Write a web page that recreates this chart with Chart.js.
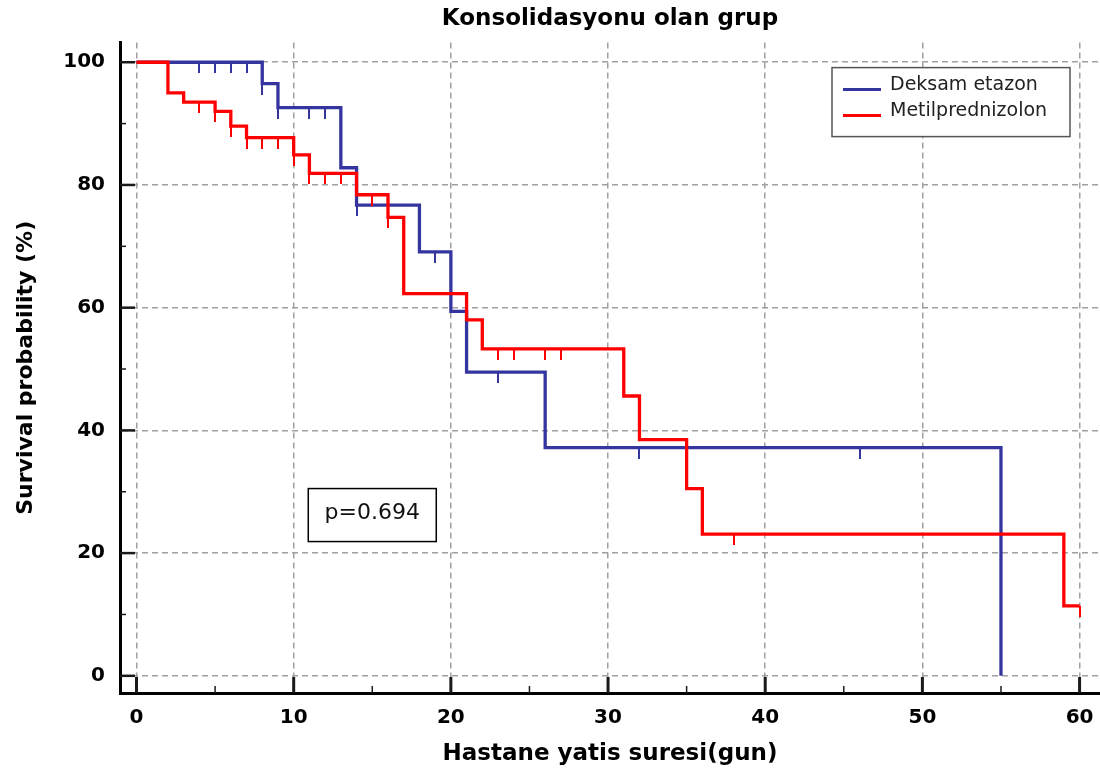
<!DOCTYPE html>
<html>
<head>
<meta charset="utf-8">
<script src="https://cdn.jsdelivr.net/npm/chart.js@4.4.1/dist/chart.umd.min.js"></script>
<style>
  html, body { margin: 0; padding: 0; background: #fff; }
</style>
</head>
<body>
<canvas id="KmChart" width="1100" height="780"></canvas>
<script>
// Kaplan-Meier curves: drop times and survival (%)
var blueTimes = [0, 8, 9, 13, 14, 18, 20, 21, 26, 55];
var blueSurv = [100, 96.5, 92.6, 82.8, 76.7, 69.1, 59.4, 49.5, 37.2, 0];
var blueCensored = [4, 5, 6, 7, 8, 9, 11, 12, 14, 19, 23, 32, 46];

var redTimes = [0, 2, 3, 5, 6, 7, 10, 11, 14, 16, 17, 21, 22, 31, 32, 35, 36, 59, 60];
var redSurv = [100, 95.0, 93.5, 92.0, 89.6, 87.7, 84.9, 81.9, 78.4, 74.7, 62.3, 58.0, 53.3, 45.6, 38.5, 30.5, 23.1, 11.4, 11.4];
var redCensored = [4, 5, 6, 7, 8, 9, 10, 11, 12, 13, 15, 16, 23, 24, 26, 27, 38, 60];

var legendNames = ['Deksam etazon', 'Metilprednizolon'];
var xTickValues = [0, 10, 20, 30, 40, 50, 60];
var xMinorValues = [5, 15, 25, 35, 45, 55];
var yTickValues = [0, 20, 40, 60, 80, 100];
var yMinorValues = [10, 30, 50, 70, 90];
var pValueText = 'p=0.694';

var blueColor = '#3535a0';
var redColor = '#ff0000';

Chart.defaults.font.family = "'DejaVu Sans', sans-serif";
Chart.defaults.color = '#000';

// survival level of a curve at time t (last step at or before t)
function survAt(times, surv, t) {
    var v = surv[0];
    for (var i = 0; i < times.length; i++) {
        if (times[i] <= t) v = surv[i];
    }
    return v;
}

function toPoints(xs, ys) {
    return xs.map(function (x, i) { return { x: x, y: ys[i] }; });
}

function censorPoints(cens, times, surv) {
    return cens.map(function (t) { return { x: t, y: survAt(times, surv, t) }; });
}

// small downward tick used as point style for censored cases
function censorMark(color) {
    var c = document.createElement('canvas');
    c.width = 2;
    c.height = 22;
    var g = c.getContext('2d');
    g.fillStyle = color;
    g.fillRect(0, 11, 2, 11);
    return c;
}

var axisTicks = {
    id: 'axisTicks',
    afterDraw: function (chart) {
        var ctx = chart.ctx, xs = chart.scales.x, ys = chart.scales.y, a = chart.chartArea;
        function seg(x1, y1, x2, y2, w) {
            ctx.lineWidth = w;
            ctx.beginPath();
            ctx.moveTo(x1, y1);
            ctx.lineTo(x2, y2);
            ctx.stroke();
        }
        ctx.save();
        ctx.strokeStyle = '#1a1a1a';
        xTickValues.forEach(function (v) {
            var px = xs.getPixelForValue(v);
            seg(px, a.bottom, px, a.bottom - 16, 3);
        });
        xMinorValues.forEach(function (v) {
            var px = xs.getPixelForValue(v);
            seg(px, a.bottom, px, a.bottom - 7, 1.5);
        });
        yTickValues.forEach(function (v) {
            var py = ys.getPixelForValue(v);
            seg(a.left, py, a.left + 15, py, 2.5);
        });
        yMinorValues.forEach(function (v) {
            var py = ys.getPixelForValue(v);
            seg(a.left, py, a.left + 6, py, 1.5);
        });
        ctx.restore();
    }
};

var boxLegend = {
    id: 'boxLegend',
    afterDraw: function (chart) {
        var ctx = chart.ctx, a = chart.chartArea;
        var w = 238, h = 69;
        var x0 = a.right - 268, y0 = a.top + 25;
        var colors = [blueColor, redColor];
        ctx.save();
        ctx.fillStyle = '#fff';
        ctx.fillRect(x0, y0, w, h);
        ctx.strokeStyle = '#555';
        ctx.lineWidth = 1.5;
        ctx.strokeRect(x0, y0, w, h);
        ctx.font = "19px 'DejaVu Sans'";
        ctx.textBaseline = 'middle';
        legendNames.forEach(function (name, i) {
            var y = y0 + 22 + i * 26;
            ctx.strokeStyle = colors[i];
            ctx.lineWidth = 3;
            ctx.beginPath();
            ctx.moveTo(x0 + 11, y);
            ctx.lineTo(x0 + 49, y);
            ctx.stroke();
            ctx.fillStyle = '#222';
            ctx.fillText(name, x0 + 58, y - 5);
        });
        ctx.restore();
    }
};

var pBox = {
    id: 'pBox',
    afterDraw: function (chart, args, opts) {
        var ctx = chart.ctx;
        var cx = chart.scales.x.getPixelForValue(opts.x);
        var cy = chart.scales.y.getPixelForValue(opts.y);
        ctx.save();
        ctx.fillStyle = '#fff';
        ctx.fillRect(cx - opts.w / 2, cy - opts.h / 2, opts.w, opts.h);
        ctx.strokeStyle = '#000';
        ctx.lineWidth = 1.5;
        ctx.strokeRect(cx - opts.w / 2, cy - opts.h / 2, opts.w, opts.h);
        ctx.fillStyle = '#111';
        ctx.font = "22px 'DejaVu Sans'";
        ctx.textAlign = 'center';
        ctx.textBaseline = 'middle';
        ctx.fillText(pValueText, cx, cy - 2);
        ctx.restore();
    }
};

var gridStyle = { color: '#a0a0a0', lineWidth: 1.5, drawTicks: false };
var borderStyle = { display: true, color: '#000', width: 3, dash: [6, 4] };

var data = {
    datasets: [{
        label: 'Metilprednizolon',
        data: toPoints(redTimes, redSurv),
        borderColor: redColor,
        borderWidth: 3.3,
        stepped: true,
        pointRadius: 0,
        fill: false
    }, {
        label: 'Metilprednizolon censored',
        data: censorPoints(redCensored, redTimes, redSurv),
        showLine: false,
        pointStyle: censorMark(redColor),
        pointRadius: 2
    }, {
        label: 'Deksametazon',
        data: toPoints(blueTimes, blueSurv),
        borderColor: blueColor,
        borderWidth: 3.3,
        stepped: true,
        pointRadius: 0,
        fill: false
    }, {
        label: 'Deksametazon censored',
        data: censorPoints(blueCensored, blueTimes, blueSurv),
        showLine: false,
        pointStyle: censorMark(blueColor),
        pointRadius: 2
    }]
};

var config = {
    type: 'line',
    data: data,
    plugins: [axisTicks, boxLegend, pBox],
    options: {
        responsive: false,
        animation: false,
        layout: { padding: 0, autoPadding: false },
        plugins: {
            legend: { display: false },
            tooltip: { enabled: false },
            title: {
                display: true,
                text: 'Konsolidasyonu olan grup',
                fullSize: false,
                color: '#000',
                font: { size: 23, weight: 'bold' },
                padding: { top: 5, bottom: 10 }
            },
            pBox: { x: 15, y: 26.2, w: 128, h: 53 }
        },
        scales: {
            x: {
                type: 'linear',
                min: -1.05,
                max: 61.3,
                afterBuildTicks: function (s) {
                    s.ticks = xTickValues.map(function (v) { return { value: v }; });
                },
                afterFit: function (s) {
                    s.height = 87;
                    s.paddingLeft = 0;
                    s.paddingRight = 0;
                },
                grid: gridStyle,
                border: borderStyle,
                ticks: {
                    color: '#000',
                    padding: 13,
                    maxRotation: 0,
                    font: { size: 20, weight: 'bold' }
                },
                title: {
                    display: true,
                    text: 'Hastane yatis suresi(gun)',
                    color: '#000',
                    font: { size: 23, weight: 'bold' },
                    padding: { top: 0, bottom: 12 }
                }
            },
            y: {
                type: 'linear',
                min: -2.8,
                max: 103.2,
                afterBuildTicks: function (s) {
                    s.ticks = yTickValues.map(function (v) { return { value: v }; });
                },
                afterFit: function (s) {
                    s.width = 120;
                    s.paddingTop = 0;
                    s.paddingBottom = 0;
                },
                grid: gridStyle,
                border: borderStyle,
                ticks: {
                    color: '#000',
                    padding: 15,
                    font: { size: 20, weight: 'bold' }
                },
                title: {
                    display: true,
                    text: 'Survival probability (%)',
                    color: '#000',
                    font: { size: 22, weight: 'bold' },
                    padding: { top: 13, bottom: 0 }
                }
            }
        }
    }
};

var kmChart = new Chart(document.getElementById('KmChart'), config);
</script>
</body>
</html>
